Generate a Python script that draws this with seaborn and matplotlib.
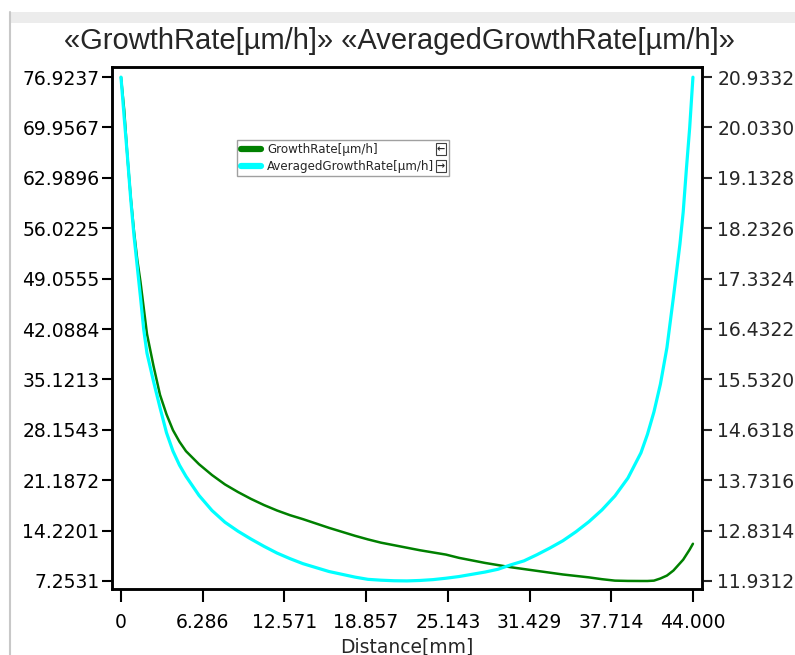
import matplotlib
matplotlib.use("Agg")
import matplotlib.pyplot as plt
import seaborn as sns
from matplotlib.lines import Line2D
from matplotlib.patches import Rectangle

# values
distance = [0, 0.25, 0.5, 0.75, 1.0, 1.25, 1.5, 1.75, 2.0, 2.5, 3.0, 3.5, 4.0, 4.5, 5.0,
            6, 7, 8, 9, 10, 11, 12, 13, 14, 15, 16, 17, 18, 19, 20, 21, 22, 23, 24, 25,
            26, 27, 28, 29, 30, 31, 32, 33, 34, 35, 36, 37, 38, 39, 40, 40.5, 41, 41.5,
            42, 42.5, 43, 43.25, 43.5, 43.75, 44]
growth_rate = [76.92, 72.3, 65.8, 60.3, 55.6, 51.7, 48.6, 45.0, 41.4, 37.0, 33.0, 30.3,
               28.1, 26.5, 25.2, 23.4, 21.9, 20.6, 19.55, 18.6, 17.75, 17.0, 16.35, 15.8,
               15.2, 14.6, 14.05, 13.5, 13.0, 12.55, 12.2, 11.85, 11.5, 11.2, 10.9,
               10.45, 10.1, 9.75, 9.45, 9.15, 8.9, 8.65, 8.4, 8.15, 7.95, 7.75, 7.5, 7.3,
               7.26, 7.25, 7.25, 7.3, 7.6, 8.0, 8.7, 9.7, 10.2, 10.9, 11.6, 12.4]
avg_growth_rate = [20.93, 20.2, 19.5, 18.75, 18.1, 17.55, 17.0, 16.42, 16.0, 15.5, 15.03,
                   14.58, 14.25, 14.0, 13.8, 13.46, 13.19, 12.98, 12.82, 12.68, 12.55, 12.43,
                   12.33, 12.24, 12.17, 12.1, 12.05, 12.0, 11.96, 11.945, 11.935, 11.932,
                   11.94, 11.955, 11.98, 12.01, 12.05, 12.09, 12.14, 12.22, 12.29, 12.40,
                   12.52, 12.65, 12.81, 12.99, 13.2, 13.45, 13.77, 14.22, 14.55, 14.95,
                   15.45, 16.1, 17.0, 17.95, 18.52, 19.3, 20.03, 20.93]

left_ticks = [7.2531, 14.2201, 21.1872, 28.1543, 35.1213, 42.0884, 49.0555, 56.0225,
              62.9896, 69.9567, 76.9237]
right_ticks = [11.9312, 12.8314, 13.7316, 14.6318, 15.5320, 16.4322, 17.3324, 18.2326,
               19.1328, 20.0330, 20.9332]
x_ticks = [0, 6.286, 12.571, 18.857, 25.143, 31.429, 37.714, 44.000]
x_labels = ["0", "6.286", "12.571", "18.857", "25.143", "31.429", "37.714", "44.000"]

sns.set_style("white")
plt.rcParams['font.family'] = ['DejaVu Sans']

W, H = 795, 655
fig = plt.figure(figsize=(W / 100, H / 100), dpi=100)
ax = fig.add_axes([0.1409, 0.1008, 0.742, 0.7969])
ax2 = ax.twinx()

sns.lineplot(x=distance, y=growth_rate, ax=ax, color="#008000", linewidth=1.8)
sns.lineplot(x=distance, y=avg_growth_rate, ax=ax2, color="#00FFFF", linewidth=2.3)

ax.set_xlim(-0.69, 44.69)
ax.set_ylim(6.147, 78.31)
ax2.set_ylim(11.788, 21.112)

ax.set_xticks(x_ticks)
ax.set_xticklabels(x_labels)
ax.set_yticks(left_ticks)
ax.set_yticklabels([f"{v:.4f}" for v in left_ticks])
ax2.set_yticks(right_ticks)
ax2.set_yticklabels([f"{v:.4f}" for v in right_ticks])

ax.tick_params(axis="both", which="both", direction="out", length=7, width=1.5,
               labelsize=13.5, colors="black", left=True, bottom=True)
ax.tick_params(axis="x", length=9, pad=8)
ax.tick_params(axis="y", pad=2)
ax2.tick_params(axis="y", direction="out", length=7, width=1.5, labelsize=13.5,
                right=True, pad=4)
for a in (ax, ax2):
    for s in a.spines.values():
        s.set_color("black")
        s.set_linewidth(1.8)

ax.set_xlabel("Distance[mm]", fontsize=13.5, labelpad=4)
ax.set_ylabel("")
ax2.set_ylabel("")

fig.text(0.503, 0.938, "«GrowthRate[µm/h]» «AveragedGrowthRate[µm/h]»",
         ha="center", va="center", fontsize=21, family=["Liberation Sans", "DejaVu Sans"])

# legend, with the frame drawn separately so it also encloses the little arrow buttons
handles = [Line2D([], [], color="#008000", linewidth=4.5),
           Line2D([], [], color="#00FFFF", linewidth=4.5)]
leg = ax2.legend(handles, ["GrowthRate[µm/h]", "AveragedGrowthRate[µm/h]"],
                 loc="upper left", bbox_to_anchor=(239 / W, 1 - 141 / H),
                 bbox_transform=fig.transFigure, borderaxespad=0, borderpad=0.15,
                 fontsize=8.6, frameon=False, handlelength=1.7,
                 handletextpad=0.5, labelspacing=0.35)
fig.patches.append(Rectangle((237 / W, 1 - 176 / H), 212 / W, 36 / H,
                             transform=fig.transFigure, facecolor="none",
                             edgecolor="#a0a0a0", linewidth=1.0, zorder=5))
for yy, arrow in ((149, "←"), (166, "→")):
    fig.text(441 / W, 1 - yy / H, arrow, ha="center", va="center", fontsize=7,
             fontweight="bold",
             bbox=dict(boxstyle="square,pad=0.1", facecolor="white",
                       edgecolor="#404040", linewidth=0.8))

# window chrome of the screenshot
fig.patches.append(Rectangle((0.013, 0.965), 0.99, 0.017, transform=fig.transFigure,
                             facecolor="#ececec", edgecolor="none"))
fig.lines.append(Line2D([0.013, 0.013], [0, 0.982], transform=fig.transFigure,
                        color="#c8c8c8", linewidth=1.5))

fig.savefig("out.png", dpi=100)
